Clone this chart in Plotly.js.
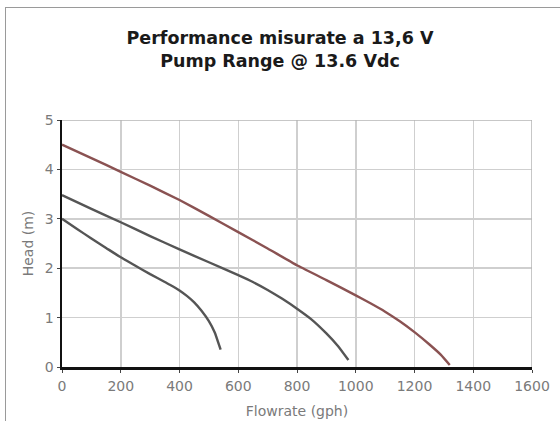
<!DOCTYPE html>
<html>
<head>
<meta charset="utf-8">
<script src="https://cdn.plot.ly/plotly-3.0.1.min.js"></script>
<style>
html,body{margin:0;padding:0;background:#fff;}
#wrap{position:relative;width:560px;height:421px;overflow:hidden;}
#chart{width:560px;height:421px;}
#frame{position:absolute;left:5px;top:7px;width:600px;height:500px;border-left:1.5px solid #9a9a9a;border-top:1.5px solid #9a9a9a;pointer-events:none;}
</style>
</head>
<body>
<div id="wrap"><div id="chart"></div><div id="frame"></div></div>
<script>
// Flowrate (gph) and head (m)
const flowTop = [0, 100, 200, 300, 400, 500, 600, 700, 800, 900, 1000, 1050, 1100, 1150, 1200, 1250, 1290, 1320];
const headTop = [4.5, 4.23, 3.95, 3.67, 3.38, 3.06, 2.73, 2.4, 2.06, 1.76, 1.45, 1.29, 1.12, 0.925, 0.705, 0.46, 0.245, 0.04];

const flowMid = [0, 100, 200, 300, 400, 500, 600, 650, 700, 750, 800, 850, 900, 940, 975];
const headMid = [3.48, 3.2, 2.93, 2.65, 2.38, 2.12, 1.86, 1.72, 1.56, 1.38, 1.18, 0.96, 0.68, 0.42, 0.14];

const flowLow = [0, 50, 100, 150, 200, 250, 300, 350, 375, 400, 425, 450, 475, 500, 520, 540];
const headLow = [3.0, 2.8, 2.6, 2.41, 2.22, 2.05, 1.88, 1.72, 1.64, 1.55, 1.44, 1.31, 1.14, 0.93, 0.7, 0.35];

const xTicks = [0, 200, 400, 600, 800, 1000, 1200, 1400, 1600];
const yTicks = [0, 1, 2, 3, 4, 5];

const titleText = "Performance misurate a 13,6 V<br>Pump Range @ 13.6 Vdc";
const xTitle = "Flowrate (gph)";
const yTitle = "Head (m)";

const traces = [
  {x: flowTop, y: headTop, mode: "lines", line: {color: "#8a5252", width: 2.4, shape: "spline", smoothing: 0.4}, hoverinfo: "skip"},
  {x: flowMid, y: headMid, mode: "lines", line: {color: "#555555", width: 2.4, shape: "spline", smoothing: 0.4}, hoverinfo: "skip"},
  {x: flowLow, y: headLow, mode: "lines", line: {color: "#555555", width: 2.4, shape: "spline", smoothing: 0.4}, hoverinfo: "skip"}
];

const font = "DejaVu Sans, Arial, sans-serif";

const layout = {
  width: 560, height: 421,
  margin: {l: 62, r: 28, t: 120, b: 54, pad: 0},
  paper_bgcolor: "#ffffff", plot_bgcolor: "#ffffff",
  showlegend: false,
  font: {family: font, color: "#7a7a7a", size: 14},
  title: {
    text: titleText,
    font: {family: font, size: 17.5, color: "#1a1a1a", weight: "bold"},
    xref: "container", x: 0.5, xanchor: "center",
    yref: "container", y: 0.895, yanchor: "top"
  },
  xaxis: {
    range: [0, 1600], tickvals: xTicks, ticktext: xTicks.map(String),
    showgrid: true, gridcolor: "#cfcfcf", gridwidth: 1.5,
    zeroline: false, showline: true, linecolor: "#111111", linewidth: 2.5,
    ticks: "outside", ticklen: 3, tickcolor: "#444", tickwidth: 1,
    tickfont: {family: font, size: 14, color: "#7a7a7a"},
    ticklabelstandoff: 2,
    title: {text: xTitle, font: {family: font, size: 14, color: "#7a7a7a"}, standoff: 13},
    fixedrange: true
  },
  yaxis: {
    range: [0, 5], tickvals: yTicks, ticktext: yTicks.map(String),
    showgrid: true, gridcolor: "#cfcfcf", gridwidth: 1.5,
    zeroline: false, showline: true, linecolor: "#111111", linewidth: 2.5,
    ticks: "outside", ticklen: 3, tickcolor: "#444", tickwidth: 1,
    tickfont: {family: font, size: 14, color: "#7a7a7a"},
    title: {text: yTitle, font: {family: font, size: 14, color: "#7a7a7a"}, standoff: 8},
    fixedrange: true
  },
  shapes: [
    // blank patch in the upper right of the plot (as in the scanned reference)
    {type: "rect", xref: "x", yref: "y", x0: 963, x1: 1590, y0: 3.64, y1: 4.97,
     fillcolor: "#ffffff", line: {width: 0}, layer: "below"},
    // top and right plot border
    {type: "line", xref: "x", yref: "y", x0: 0, x1: 1600, y0: 5, y1: 5, line: {color: "#b5b5b5", width: 1.5}},
    {type: "line", xref: "x", yref: "y", x0: 1600, x1: 1600, y0: 0, y1: 5, line: {color: "#b5b5b5", width: 1.5}}
  ]
};

Plotly.newPlot("chart", traces, layout, {staticPlot: true, displayModeBar: false});
</script>
</body>
</html>
